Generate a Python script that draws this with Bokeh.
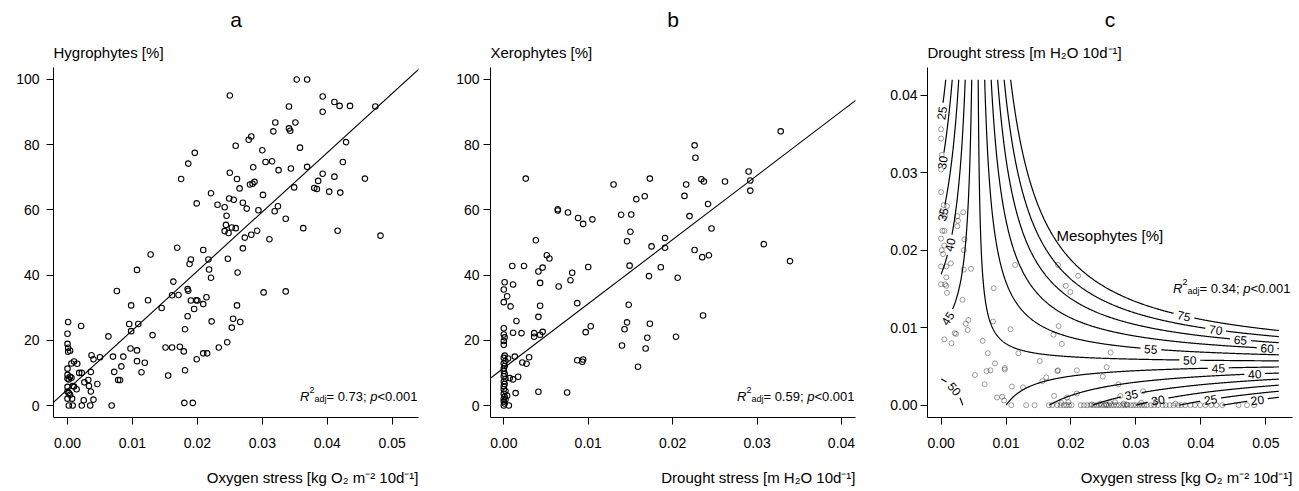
import numpy as np
import contourpy
from bokeh.plotting import figure
from bokeh.models import Range1d, FixedTicker, PrintfTickFormatter, Label, Slope, ColumnDataSource, Title
from bokeh.core.properties import value
from bokeh.layouts import row
from bokeh.embed import file_html
from bokeh.resources import INLINE

FONT = "Liberation Sans"

# ---------------- data ----------------
hyg_oxygen = [0.0353, 0.0369, 0.0250, 0.0393, 0.0411, 0.0419, 0.0435, 0.0341, 0.0474, 0.0393,
              0.0320, 0.0351, 0.0317, 0.0341, 0.0343, 0.0283, 0.0279, 0.0429, 0.0259, 0.0358,
              0.0300, 0.0196, 0.0186, 0.0305, 0.0315, 0.0424, 0.0325, 0.0286, 0.0369, 0.0344,
              0.0250, 0.0393, 0.0411, 0.0175, 0.0261, 0.0458, 0.0265, 0.0285, 0.0281, 0.0288,
              0.0386, 0.0380, 0.0384, 0.0349, 0.0403, 0.0420, 0.0221, 0.0301, 0.0249, 0.0256,
              0.0270, 0.0199, 0.0231, 0.0324, 0.0276, 0.0294, 0.0319, 0.0242, 0.0245, 0.0336,
              0.0244, 0.0253, 0.0259, 0.0363, 0.0242, 0.0248, 0.0292, 0.0416, 0.0283, 0.0273,
              0.0311, 0.0482, 0.0270, 0.0169, 0.0209, 0.0128, 0.0190, 0.0217, 0.0247, 0.0188,
              0.0107, 0.0218, 0.0221, 0.0262, 0.0163, 0.0076, 0.0302, 0.0336, 0.0185, 0.0186,
              0.0161, 0.0171, 0.0214, 0.0124, 0.0200, 0.0190, 0.0198, 0.0209, 0.0098, 0.0145,
              0.0261, 0.0195, 0.0185, 0.0255, 0.0266, 0.0222, 0.0001, 0.0253, 0.0181, 0.0021,
              0.0095, 0.0109, 0.0000, 0.0098, 0.0131, 0.0063, 0.0000, 0.0001, 0.0004, 0.0001,
              0.0097, 0.0107, 0.0151, 0.0161, 0.0173, 0.0179, 0.0233, 0.0246, 0.0209, 0.0215,
              0.0037, 0.0040, 0.0050, 0.0070, 0.0086, 0.0199, 0.0107, 0.0119, 0.0010, 0.0006,
              0.0015, 0.0000, 0.0018, 0.0022, 0.0036, 0.0072, 0.0114, 0.0155, 0.0181, 0.0083,
              0.0000, 0.0004, 0.0006, 0.0000, 0.0002, 0.0078, 0.0081, 0.0032, 0.0026, 0.0033,
              0.0046, 0.0008, 0.0010, 0.0000, 0.0014, 0.0036, 0.0000, 0.0002, 0.0004, 0.0007,
              0.0000, 0.0025, 0.0040, 0.0002, 0.0008, 0.0022, 0.0035, 0.0068, 0.0180, 0.0193]
hyg_pct = [100.0, 100.0, 95.1, 94.8, 93.1, 91.9, 91.9, 91.7, 91.7, 90.1,
           86.8, 86.8, 84.1, 85.0, 84.3, 82.5, 81.5, 80.8, 79.7, 79.1,
           78.3, 77.5, 74.2, 74.7, 74.9, 74.7, 72.2, 73.1, 73.2, 72.7,
           71.4, 71.1, 70.2, 69.5, 69.5, 69.6, 66.6, 68.0, 67.8, 68.6,
           68.9, 66.7, 66.4, 66.9, 65.6, 65.3, 65.1, 64.6, 63.5, 63.1,
           62.2, 62.0, 61.6, 61.1, 60.4, 59.9, 59.6, 60.8, 58.2, 57.3,
           55.4, 54.6, 54.4, 54.4, 53.5, 52.9, 53.6, 53.6, 52.4, 51.5,
           51.0, 52.1, 48.2, 48.4, 47.7, 46.3, 44.8, 44.8, 45.0, 43.4,
           41.6, 41.7, 39.2, 40.8, 38.0, 35.1, 34.7, 35.0, 35.7, 35.2,
           33.8, 33.9, 33.2, 32.3, 32.2, 32.2, 32.3, 31.1, 30.7, 29.9,
           30.7, 29.6, 27.4, 26.6, 25.6, 25.8, 25.6, 23.9, 23.4, 24.4,
           25.0, 25.0, 22.0, 22.8, 21.6, 21.2, 18.9, 17.7, 16.8, 16.5,
           17.5, 16.9, 17.8, 17.8, 18.0, 16.6, 17.8, 19.4, 16.0, 16.0,
           15.4, 14.2, 14.8, 15.0, 15.0, 14.2, 13.6, 13.1, 13.5, 12.9,
           12.8, 11.3, 10.0, 10.0, 10.3, 10.3, 10.2, 9.2, 10.8, 12.0,
           9.4, 8.8, 8.5, 8.3, 8.0, 7.8, 7.8, 7.8, 7.1, 6.0,
           6.6, 6.0, 5.8, 5.7, 5.0, 4.3, 4.3, 3.8, 3.3, 2.1,
           2.1, 1.6, 1.8, 0.0, 0.0, 0.0, 0.0, 0.0, 0.8, 0.8]
hyg_fit_intercept = 4.9
hyg_fit_slope = 1817.0
hyg_r2 = "0.73"

xer_drought = [0.0328, 0.0226, 0.0227, 0.0026, 0.0173, 0.0234, 0.0237, 0.0262, 0.0290, 0.0292,
               0.0292, 0.0130, 0.0216, 0.0167, 0.0214, 0.0157, 0.0064, 0.0064, 0.0076, 0.0242,
               0.0139, 0.0151, 0.0088, 0.0105, 0.0094, 0.0220, 0.0150, 0.0246, 0.0038, 0.0146,
               0.0191, 0.0308, 0.0175, 0.0191, 0.0226, 0.0051, 0.0054, 0.0235, 0.0243, 0.0339,
               0.0010, 0.0024, 0.0046, 0.0100, 0.0149, 0.0186, 0.0041, 0.0081, 0.0079, 0.0172,
               0.0206, 0.0001, 0.0011, 0.0043, 0.0065, 0.0000, 0.0004, 0.0000, 0.0008, 0.0043,
               0.0087, 0.0148, 0.0041, 0.0236, 0.0015, 0.0146, 0.0173, 0.0103, 0.0000, 0.0011,
               0.0021, 0.0036, 0.0036, 0.0046, 0.0043, 0.0097, 0.0143, 0.0170, 0.0204, 0.0140,
               0.0168, 0.0005, 0.0013, 0.0030, 0.0022, 0.0027, 0.0087, 0.0094, 0.0093, 0.0159,
               0.0007, 0.0011, 0.0017, 0.0014, 0.0041, 0.0075, 0.0004, 0.0006, 0.0002,
               0.0000, 0.0001, 0.0000, 0.0000, 0.0001, 0.0000, 0.0002, 0.0000, 0.0001, 0.0000,
               0.0000, 0.0001, 0.0000, 0.0002, 0.0000, 0.0001, 0.0000, 0.0000, 0.0002, 0.0000,
               0.0001, 0.0000, 0.0000, 0.0001, 0.0000]
xer_pct = [84.1, 79.8, 76.0, 69.6, 69.6, 69.4, 68.7, 68.7, 71.8, 69.0,
           65.9, 67.8, 67.8, 64.2, 64.3, 63.3, 60.2, 59.8, 59.2, 61.8,
           58.5, 58.6, 57.5, 57.1, 55.7, 58.1, 53.3, 54.3, 50.7, 50.4,
           51.4, 49.5, 48.8, 48.4, 47.7, 46.1, 45.1, 45.5, 46.1, 44.3,
           42.8, 42.8, 42.3, 42.5, 42.9, 42.4, 41.1, 40.7, 38.4, 39.7,
           39.2, 37.8, 37.1, 37.6, 36.5, 35.6, 33.5, 31.7, 30.4, 30.6,
           31.4, 30.9, 27.2, 27.6, 25.9, 25.5, 25.1, 24.3, 23.7, 22.3,
           22.2, 22.2, 21.1, 22.6, 21.7, 22.5, 23.4, 20.8, 21.1, 18.4,
           17.5, 14.4, 15.0, 14.8, 13.2, 12.8, 13.9, 14.1, 13.4, 11.9,
           8.4, 8.0, 8.8, 3.8, 4.2, 4.0, 3.0, 0.0, 1.8,
           21.8, 20.9, 19.8, 18.6, 15.3, 14.6, 13.7, 12.9, 12.1, 11.4,
           10.6, 9.7, 9.0, 8.2, 7.3, 6.6, 5.9, 5.0, 4.4, 3.6,
           2.7, 2.0, 1.2, 0.6, 0.0]
xer_fit_intercept = 11.5
xer_fit_slope = 1970.0
xer_r2 = "0.59"

meso_oxygen = [0.0, 0.0, 0.0001, 0.0, 0.0, 0.0004, 0.0009, 0.0001, 0.0034, 0.0025,
               0.0006, 0.0026, 0.0025, 0.0002, 0.0005, 0.0, 0.0036, 0.0005, 0.0001, 0.0035,
               0.0003, 0.0015, 0.0, 0.0008, 0.0046, 0.0035, 0.0008, 0.0, 0.0006, 0.0008,
               0.0009, 0.0033, 0.0042, 0.0038, 0.0041, 0.0021, 0.0023, 0.0005, 0.0016, 0.0081,
               0.0080, 0.0114, 0.0107, 0.0064, 0.0072, 0.0083, 0.0070, 0.0076, 0.0098, 0.0098,
               0.0052, 0.0067, 0.0119, 0.0109, 0.0126, 0.0086, 0.0094, 0.0097, 0.0152, 0.0156,
               0.0162, 0.0173, 0.0180, 0.0181, 0.0186, 0.0179, 0.0180, 0.0192, 0.0199, 0.0211,
               0.0209, 0.0174, 0.0209, 0.0249, 0.0255, 0.0261, 0.0273, 0.0276, 0.0311, 0.0194,
               0.0108, 0.0131, 0.0144, 0.0166, 0.0171, 0.0179, 0.0184, 0.0189, 0.0193, 0.0197,
               0.0201, 0.0215, 0.0220, 0.0225, 0.0230, 0.0235, 0.0239, 0.0243, 0.0247, 0.0251,
               0.0255, 0.0258, 0.0262, 0.0266, 0.0270, 0.0274, 0.0279, 0.0283, 0.0287, 0.0292,
               0.0296, 0.0300, 0.0305, 0.0309, 0.0313, 0.0317, 0.0323, 0.0328, 0.0334, 0.0341,
               0.0346, 0.0352, 0.0358, 0.0365, 0.0370, 0.0376, 0.0384, 0.0391, 0.0399, 0.0407,
               0.0416, 0.0424, 0.0433, 0.0458, 0.0471, 0.0482,
               0.0185, 0.0196, 0.0245, 0.0260, 0.0268, 0.0281, 0.0308, 0.0331, 0.0361, 0.0232,
               0.0254, 0.0286]
meso_drought = [0.0356, 0.0344, 0.0323, 0.0304, 0.0275, 0.0258, 0.0257, 0.0249, 0.0249, 0.0244,
                0.0244, 0.0238, 0.0231, 0.0225, 0.0225, 0.0215, 0.0214, 0.0206, 0.0200, 0.0200,
                0.0195, 0.0183, 0.0179, 0.0179, 0.0176, 0.0175, 0.0165, 0.0156, 0.0156, 0.0154,
                0.0145, 0.0136, 0.0110, 0.0105, 0.0097, 0.0093, 0.0092, 0.0085, 0.0080, 0.0151,
                0.0108, 0.0181, 0.0098, 0.0083, 0.0067, 0.0054, 0.0044, 0.0045, 0.0048, 0.0046,
                0.0039, 0.0027, 0.0067, 0.0024, 0.0023, 0.0010, 0.0011, 0.0006, 0.0057, 0.0031,
                0.0036, 0.0091, 0.0181, 0.0102, 0.0079, 0.0044, 0.0045, 0.0154, 0.0146, 0.0167,
                0.0045, 0.0012, 0.0015, 0.0037, 0.0049, 0.0068, 0.0027, 0.0012, 0.0018, 0.0010,
                0.0, 0.0, 0.0, 0.0, 0.0, 0.0, 0.0, 0.0, 0.0, 0.0,
                0.0, 0.0, 0.0, 0.0, 0.0, 0.0, 0.0, 0.0, 0.0, 0.0,
                0.0, 0.0, 0.0, 0.0, 0.0, 0.0, 0.0, 0.0, 0.0, 0.0,
                0.0, 0.0, 0.0, 0.0, 0.0, 0.0, 0.0, 0.0, 0.0, 0.0,
                0.0, 0.0, 0.0, 0.0, 0.0, 0.0, 0.0, 0.0, 0.0, 0.0,
                0.0, 0.0, 0.0, 0.0, 0.0, 0.0,
                0.0003, 0.0004, 0.0002, 0.0003, 0.0004, 0.0002, 0.0003, 0.0005, 0.0002, 0.0001,
                0.0001, 0.0001]
# fitted surface: Meso = a + b*O2 + c*Drought + d*O2*Drought
meso_a = 52.5
meso_b = -750.0
meso_c = -740.0
meso_d = 137000.0
meso_levels = [20, 25, 30, 35, 40, 45, 50, 55, 60, 65, 70, 75]
meso_r2 = "0.34"

x_ticks_oxygen = [0.0, 0.01, 0.02, 0.03, 0.04, 0.05]
x_ticks_drought = [0.0, 0.01, 0.02, 0.03, 0.04]
y_ticks_pct = [0, 20, 40, 60, 80, 100]
y_ticks_drought = [0.0, 0.01, 0.02, 0.03, 0.04]

OXY_LABEL = "Oxygen stress [kg O\u2082 m\u207b\u00b2 10d\u207b\u00b9]"
DRO_LABEL = "Drought stress [m H\u2082O 10d\u207b\u00b9]"

# ---------------- layout helpers ----------------
W, H = 433, 491
FT, FB = 67, 417
FW, FH = 365, 350

AW = {' ': 278, '!': 278, '%': 889, '(': 333, ')': 333, '+': 584, ',': 278, '-': 333, '.': 278,
      ':': 278, ';': 278, '<': 584, '=': 584, '>': 584, '[': 278, ']': 278, '\u2212': 584,
      'A': 667, 'B': 667, 'C': 722, 'D': 722, 'E': 667, 'F': 611, 'G': 778, 'H': 722, 'I': 278,
      'J': 500, 'K': 667, 'L': 556, 'M': 833, 'N': 722, 'O': 778, 'P': 667, 'Q': 778, 'R': 722,
      'S': 667, 'T': 611, 'U': 722, 'V': 667, 'W': 944, 'X': 667, 'Y': 667, 'Z': 611,
      'a': 556, 'b': 556, 'c': 500, 'd': 556, 'e': 556, 'f': 278, 'g': 556, 'h': 556, 'i': 222,
      'j': 222, 'k': 500, 'l': 222, 'm': 833, 'n': 556, 'o': 556, 'p': 556, 'q': 556, 'r': 333,
      's': 500, 't': 278, 'u': 556, 'v': 500, 'w': 722, 'x': 500, 'y': 500, 'z': 500}


def tw(s, size):
    return sum(AW.get(ch, 556) for ch in s) * size / 1000.0


def make_panel(fl, xr, yr, xticks, yticks, xfmt, yfmt, ystand, letter, ylab, xlab):
    p = figure(width=W, height=H, x_range=Range1d(*xr), y_range=Range1d(*yr),
               output_backend="svg", toolbar_location=None, title=None,
               min_border_left=fl, min_border_right=W - fl - FW,
               min_border_top=FT, min_border_bottom=H - FB)
    p.outline_line_color = None
    p.grid.visible = False
    p.background_fill_color = "white"
    p.border_fill_color = "white"
    for ax, ticks, fmt in ((p.xaxis, xticks, xfmt), (p.yaxis, yticks, yfmt)):
        ax.ticker = FixedTicker(ticks=ticks)
        ax.formatter = PrintfTickFormatter(format=fmt)
        ax.minor_tick_line_color = None
        ax.major_tick_in = 0
        ax.major_tick_out = 7
        ax.axis_line_color = "black"
        ax.axis_line_width = 1
        ax.major_tick_line_color = "black"
        ax.major_tick_line_width = 1
        ax.major_label_text_font = FONT
        ax.major_label_text_font_size = "14px"
        ax.major_label_text_color = "black"
    p.xaxis.major_label_standoff = 13
    p.yaxis.major_label_standoff = ystand
    # blank spacer below the x tick labels so that the x title sits lower, as in R
    p.xaxis.axis_label = " "
    p.xaxis.axis_label_text_font_size = "10px"
    p.xaxis.axis_label_standoff = 0
    p.add_layout(Title(text=ylab, align="left", text_font=FONT, text_font_size="15px",
                       text_font_style="normal", text_color="black", standoff=13), "above")
    p.add_layout(Title(text=letter, align="center", text_font=FONT, text_font_size="21px",
                       text_font_style="normal", text_color="black", standoff=9), "above")
    p.add_layout(Title(text=xlab, align="right", text_font=FONT, text_font_size="15px",
                       text_font_style="normal", text_color="black", standoff=4), "below")
    geom = dict(fl=fl, xr=xr, yr=yr)
    return p, geom


def to_data(g, px, py):
    x = g["xr"][0] + (px - g["fl"]) * (g["xr"][1] - g["xr"][0]) / FW
    y = g["yr"][0] + (FB - py) * (g["yr"][1] - g["yr"][0]) / FH
    return x, y


def rich(p, g, px, py, pieces, align="left"):
    """pieces: (text, size, dy_up_px, italic); drawn inside the frame"""
    x, y = to_data(g, px, py)
    widths = [tw(t, s) for t, s, dy, it in pieces]
    total = sum(widths)
    off = 0.0 if align == "left" else (-total if align == "right" else -total / 2)
    for (t, s, dy, it), w in zip(pieces, widths):
        lead = len(t) - len(t.lstrip(" "))
        txt = t.strip(" ")
        if txt:
            p.add_layout(Label(x=x, y=y, x_offset=off + lead * AW[' '] * s / 1000.0, y_offset=dy,
                               text=txt, text_font=FONT, text_font_size=f"{s}px",
                               text_font_style="italic" if it else "normal",
                               text_align="left", text_baseline="alphabetic", text_color="black"))
        off += w


def stats_pieces(r2):
    return [("R", 13, 0, True), ("2", 9, 6, False), ("adj", 9, -3, False),
            ("= " + r2 + "; ", 13, 0, False), ("p", 13, 0, True), ("<0.001", 13, 0, False)]


# ---------------- panel a ----------------
pa, ga = make_panel(53, (-0.002156, 0.054049), (-3.68, 103.68),
                    x_ticks_oxygen, y_ticks_pct, "%.2f", "%d", 7,
                    "a", "Hygrophytes [%]", OXY_LABEL)
pa.scatter(hyg_oxygen, hyg_pct, marker="circle", size=5.5, fill_color=None,
           line_color="black", line_width=1.1)
pa.add_layout(Slope(gradient=hyg_fit_slope, y_intercept=hyg_fit_intercept,
                    line_color="black", line_width=1.1))
rich(pa, ga, 417, 395.5, stats_pieces(hyg_r2), align="right")

# ---------------- panel b ----------------
pb, gb = make_panel(57, (-0.001575, 0.041659), (-3.68, 103.68),
                    x_ticks_drought, y_ticks_pct, "%.2f", "%d", 4,
                    "b", "Xerophytes [%]", DRO_LABEL)
pb.scatter(xer_drought, xer_pct, marker="circle", size=5.5, fill_color=None,
           line_color="black", line_width=1.1)
pb.add_layout(Slope(gradient=xer_fit_slope, y_intercept=xer_fit_intercept,
                    line_color="black", line_width=1.1))
rich(pb, gb, 421, 395.5, stats_pieces(xer_r2), align="right")

# ---------------- panel c ----------------
xr_c = (-0.002094, 0.054111)
yr_c = (-0.001587, 0.043574)
pc, gc = make_panel(61, xr_c, yr_c, x_ticks_oxygen, y_ticks_drought, "%.2f", "%.2f", 3,
                    "c", DRO_LABEL, OXY_LABEL)
pc.scatter(meso_oxygen, meso_drought, marker="circle", size=5.0, fill_color=None,
           line_color="black", line_alpha=0.38, line_width=1.0)

kx = FW / (xr_c[1] - xr_c[0])
ky = FH / (yr_c[1] - yr_c[0])
gxv = np.linspace(0.0, 0.052, 521)
gyv = np.linspace(0.0, 0.042, 421)
GX, GY = np.meshgrid(gxv, gyv)
GZ = meso_a + meso_b * GX + meso_c * GY + meso_d * GX * GY
gen = contourpy.contour_generator(gxv, gyv, GZ)

# label placement along each contour (layout): ('x', x) fixes x, ('y', y) fixes y
label_spec = [(25, "y", 0.0377), (30, "y", 0.0313), (35, "y", 0.0246), (40, "y", 0.0207),
              (45, "y", 0.0112), (50, "y", 0.0021),
              (75, "x", 0.0374), (70, "x", 0.0423), (65, "x", 0.0461), (60, "x", 0.0502),
              (55, "x", 0.0323), (50, "x", 0.0383), (45, "x", 0.0427), (40, "x", 0.0483),
              (35, "x", 0.0293), (30, "x", 0.0334), (25, "x", 0.0415), (20, "x", 0.0487)]
labs = []
for lev, mode, v in label_spec:
    if mode == "x":
        lx = v
        ly = (lev - meso_a - meso_b * lx) / (meso_c + meso_d * lx)
    else:
        ly = v
        lx = (lev - meso_a - meso_c * ly) / (meso_b + meso_d * ly)
    gxs = (meso_b + meso_d * ly) / kx
    gys = (meso_c + meso_d * lx) / ky
    ang = np.arctan2(gxs, -gys)
    if ang > np.pi / 2:
        ang -= np.pi
    if ang <= -np.pi / 2:
        ang += np.pi
    labs.append((lev, lx, ly, ang))

mx, my = [], []
for lev in meso_levels:
    for seg in gen.lines(lev):
        sx = seg[:, 0] * kx
        sy = seg[:, 1] * ky
        keep = np.ones(len(seg), dtype=bool)
        for l2, lx, ly, ang in labs:
            if l2 != lev:
                continue
            r = tw(str(lev), 12) / 2 + 3.5
            keep &= np.hypot(sx - lx * kx, sy - ly * ky) > r
        i = 0
        n = len(seg)
        while i < n:
            if keep[i]:
                j = i
                while j < n and keep[j]:
                    j += 1
                if j - i > 1:
                    mx.append(list(seg[i:j, 0]))
                    my.append(list(seg[i:j, 1]))
                i = j
            else:
                i += 1
pc.multi_line(mx, my, line_color="black", line_width=1.2)

lab_src = ColumnDataSource(dict(x=[l[1] for l in labs], y=[l[2] for l in labs],
                                text=[str(l[0]) for l in labs], angle=[l[3] for l in labs]))
pc.text(x="x", y="y", text="text", angle="angle", source=lab_src, text_align="center",
        text_baseline="middle", text_font=value(FONT), text_font_size=value("12px"),
        text_color="black")

rich(pc, gc, 190, 235, [("Mesophytes [%]", 15, 0, False)], align="left")
rich(pc, gc, 424, 287.5, stats_pieces(meso_r2), align="right")

layout = row(pa, pb, pc)
open("out.html", "w").write(file_html(layout, INLINE))
